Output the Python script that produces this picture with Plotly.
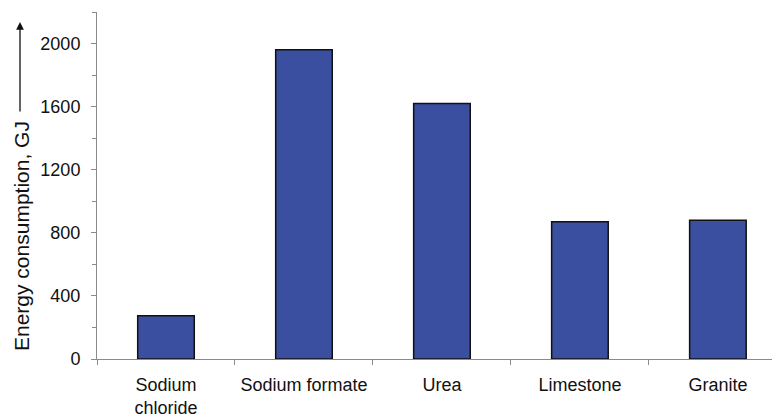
import plotly.graph_objects as go

categories = ["Sodium<br>chloride", "Sodium formate", "Urea", "Limestone", "Granite"]
energy_gj = [275, 1960, 1620, 870, 880]
y_ticks = [0, 400, 800, 1200, 1600, 2000]

# page is rendered with an 8px body margin; compensate in the figure margins
OFF = 8
L, T, B = 97 - OFF, 12 - OFF, 418 - 359 + OFF
R = OFF
PW, PH = 780 - R - L, 418 - T - B  # plot area size in px


def px(x):
    return (x - 97) / PW


def py(y):
    return (359 - y) / PH


fig = go.Figure()
fig.add_trace(go.Bar(
    x=categories, y=energy_gj,
    marker=dict(color="#3A4FA0", line=dict(color="#111111", width=1.5)),
    width=0.41,
))

fig.update_layout(
    width=780, height=418,
    margin=dict(l=L, r=R, t=T, b=B),
    paper_bgcolor="white", plot_bgcolor="white",
    font=dict(family="Liberation Sans, Arial, sans-serif", size=18, color="#111111"),
    showlegend=False,
    bargap=0.59,
)
fig.update_xaxes(
    range=[-0.5, 4.45],
    showline=True, linecolor="#8a8a8a", linewidth=1,
    ticks="outside", tickson="boundaries", ticklen=5, tickcolor="#8a8a8a",
    showgrid=False, zeroline=False,
    tickfont=dict(size=18),
    ticklabelstandoff=9,
)
fig.update_yaxes(
    range=[0, 2200],
    tickvals=y_ticks,
    showline=True, linecolor="#8a8a8a", linewidth=1,
    ticks="outside", ticklen=5, tickcolor="#8a8a8a",
    minor=dict(dtick=200, ticks="outside", ticklen=4, tickcolor="#8a8a8a"),
    showgrid=False, zeroline=False,
    tickfont=dict(size=18),
    ticklabelstandoff=7,
)
fig.add_annotation(
    xref="paper", yref="paper", x=px(21), y=py(236),
    xanchor="center", yanchor="middle",
    text="Energy consumption, GJ", textangle=-90, showarrow=False,
    font=dict(size=21),
)
fig.add_annotation(
    xref="paper", yref="paper",
    x=px(20), y=py(22),
    ax=0, ay=91, axref="pixel", ayref="pixel",
    showarrow=True, arrowhead=2, arrowsize=1.2, arrowwidth=1.3, arrowcolor="#111111",
    text="",
)
fig.write_html("out.html")
